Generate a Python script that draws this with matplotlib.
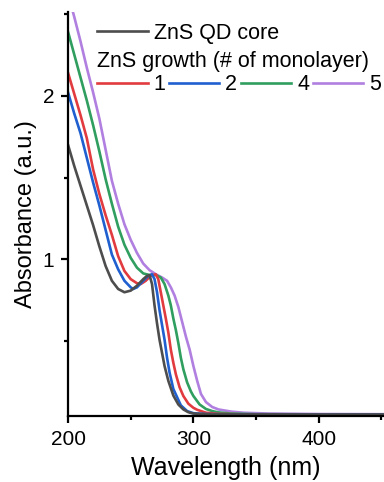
import matplotlib
matplotlib.use('Agg')
import matplotlib.pyplot as plt

plt.rcParams['font.family'] = ['Liberation Sans', 'DejaVu Sans']

# datos (longitud de onda en nm, absorbancia)
wl_core = [200, 205, 210, 215, 220, 225, 230, 235, 240, 245, 250, 255, 260, 263, 265, 267, 269, 271,
           273, 275, 277, 280, 284, 288, 292, 296, 300, 310, 330, 360, 400, 452]
abs_core = [1.70, 1.57, 1.45, 1.33, 1.21, 1.08, 0.96, 0.87, 0.82, 0.80, 0.81, 0.84, 0.88, 0.90, 0.905,
            0.85, 0.72, 0.61, 0.51, 0.43, 0.35, 0.26, 0.17, 0.115, 0.085, 0.068, 0.060, 0.056, 0.055,
            0.055, 0.054, 0.054]

wl_ml1 = [200, 205, 210, 215, 220, 225, 230, 235, 240, 245, 250, 255, 258, 262, 266, 270, 272, 274,
          276, 278, 280, 282, 284, 286, 289, 292, 296, 300, 303, 310, 320, 340, 400, 452]
abs_ml1 = [2.14, 2.01, 1.88, 1.74, 1.55, 1.40, 1.27, 1.15, 1.02, 0.93, 0.88, 0.855, 0.85, 0.87, 0.90,
           0.91, 0.88, 0.80, 0.72, 0.64, 0.555, 0.45, 0.37, 0.30, 0.22, 0.167, 0.12, 0.095, 0.083,
           0.065, 0.058, 0.055, 0.054, 0.054]

wl_ml2 = [200, 205, 210, 215, 220, 225, 230, 235, 240, 245, 250, 252, 255, 260, 264, 267, 269, 271,
          273, 275, 277, 279, 281, 284, 287, 290, 295, 300, 310, 330, 360, 400, 452]
abs_ml2 = [2.02, 1.89, 1.77, 1.62, 1.47, 1.33, 1.18, 1.03, 0.94, 0.87, 0.83, 0.82, 0.83, 0.87, 0.90,
           0.91, 0.88, 0.80, 0.69, 0.60, 0.51, 0.40, 0.31, 0.21, 0.16, 0.11, 0.075, 0.062, 0.057,
           0.055, 0.055, 0.054, 0.054]

wl_ml4 = [200, 205, 210, 215, 220, 225, 230, 235, 240, 245, 250, 255, 260, 265, 270, 274, 277, 280,
          282, 284, 286, 288, 290, 292, 295, 298, 300, 305, 310, 315, 320, 330, 350, 400, 452]
abs_ml4 = [2.39, 2.25, 2.11, 1.97, 1.82, 1.66, 1.49, 1.34, 1.20, 1.09, 1.01, 0.95, 0.915, 0.905, 0.905,
           0.89, 0.85, 0.78, 0.72, 0.64, 0.57, 0.49, 0.40, 0.33, 0.25, 0.195, 0.167, 0.115, 0.088,
           0.075, 0.067, 0.060, 0.056, 0.055, 0.054]

wl_ml5 = [200, 205, 210, 215, 220, 225, 230, 235, 240, 245, 250, 255, 260, 265, 270, 275, 279, 282,
          285, 288, 291, 294, 297, 300, 303, 306, 310, 315, 320, 330, 340, 360, 400, 452]
abs_ml5 = [2.62, 2.48, 2.33, 2.17, 2.02, 1.86, 1.67, 1.48, 1.34, 1.215, 1.12, 1.04, 0.975, 0.935, 0.91,
           0.89, 0.87, 0.83, 0.78, 0.71, 0.62, 0.53, 0.45, 0.35, 0.26, 0.18, 0.13, 0.10, 0.085, 0.072,
           0.065, 0.060, 0.057, 0.056]

c_core = '#4d4d4d'
c_ml1 = '#e23b3f'
c_ml2 = '#1f5fd0'
c_ml4 = '#2f9e5f'
c_ml5 = '#b07fe0'

fig = plt.figure(figsize=(3.84, 4.82), dpi=100)
ax = fig.add_axes([68 / 384, 66 / 482, 316 / 384, 404 / 482])

lw = 1.9
# de atras hacia adelante
l5, = ax.plot(wl_ml5, abs_ml5, color=c_ml5, lw=lw)
l4, = ax.plot(wl_ml4, abs_ml4, color=c_ml4, lw=lw)
l1, = ax.plot(wl_ml1, abs_ml1, color=c_ml1, lw=lw)
l2, = ax.plot(wl_ml2, abs_ml2, color=c_ml2, lw=lw)
l0, = ax.plot(wl_core, abs_core, color=c_core, lw=lw)

ax.set_xlim(200, 452)
ax.set_ylim(0.045, 2.51)
ax.set_xticks([200, 300, 400])
ax.set_xticks([250, 350, 450], minor=True)
ax.set_yticks([1, 2])
ax.set_yticks([0.5, 1.5, 2.5], minor=True)

for s in ['top', 'right']:
    ax.spines[s].set_visible(False)
for s in ['left', 'bottom']:
    ax.spines[s].set_linewidth(1.6)

ax.tick_params(which='major', direction='out', length=5, width=1.6, labelsize=15, pad=5)
ax.tick_params(which='minor', direction='out', length=3, width=1.6)

ax.set_xlabel('Wavelength (nm)', fontsize=18, labelpad=5)
ax.set_ylabel('Absorbance (a.u.)', fontsize=17, labelpad=4)

# leyendas
fs = 15.5
leg1 = ax.legend([l0], ['ZnS QD core'], loc='upper left', bbox_to_anchor=(0.093, 0.973),
                 frameon=False, fontsize=fs, borderpad=0, borderaxespad=0,
                 handlelength=2.33, handletextpad=0.28)
ax.add_artist(leg1)
leg2 = ax.legend([l1, l2, l4, l5], ['1', '2', '4', '5'], loc='upper left',
                 bbox_to_anchor=(0.093, 0.903), frameon=False, fontsize=fs, ncol=4,
                 title='ZnS growth (# of monolayer)', title_fontsize=fs, alignment='left',
                 borderpad=0, borderaxespad=0, handlelength=2.33, handletextpad=0.28,
                 columnspacing=0.17, labelspacing=0.1)

fig.savefig('out.png', dpi=100)
